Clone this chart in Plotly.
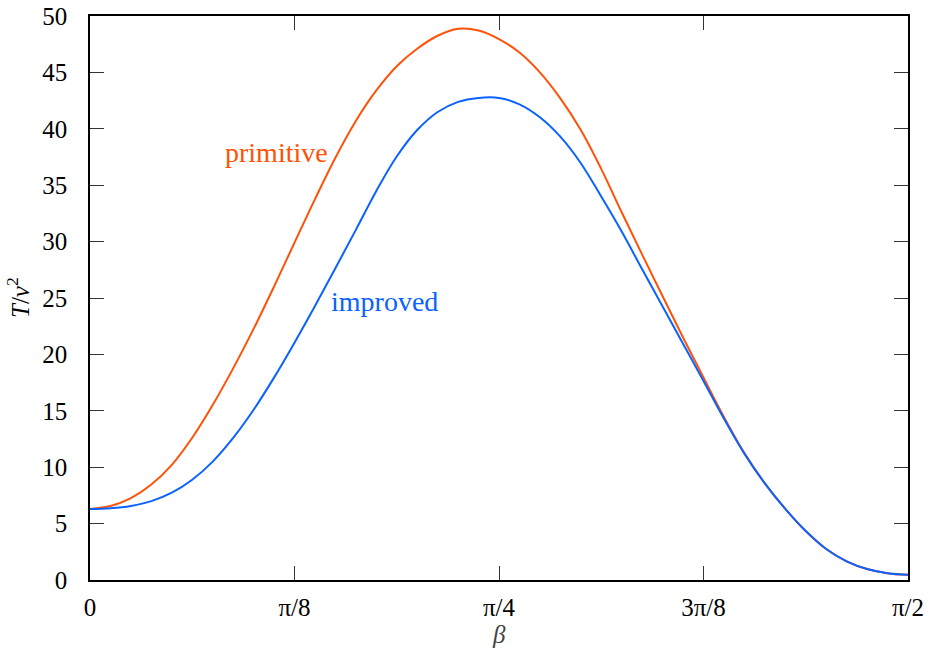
import plotly.graph_objects as go

# beta values (radians) from 0 to pi/2
beta = [0.0, 0.0393, 0.0785, 0.1178, 0.1571, 0.1963, 0.2356, 0.2749, 0.3142,
        0.3534, 0.3927, 0.4320, 0.4712, 0.5105, 0.5498, 0.5890, 0.6283,
        0.6676, 0.7069, 0.7461, 0.7854, 0.8247, 0.8639, 0.9032, 0.9425,
        0.9817, 1.0210, 1.0603, 1.0996, 1.1388, 1.1781, 1.2174, 1.2566,
        1.2959, 1.3352, 1.3744, 1.4137, 1.4530, 1.4923, 1.5315, 1.5708]

primitive = [6.3, 6.56, 7.26, 8.46, 10.21, 12.61, 15.51, 18.76, 22.26,
             26.01, 29.91, 33.76, 37.44, 40.7, 43.4, 45.55, 47.1,
             48.25, 48.87, 48.72, 47.96, 46.76, 45.0, 42.7, 39.9,
             36.45, 32.6, 28.85, 25.15, 21.5, 17.95, 14.45, 11.25,
             8.57, 6.31, 4.34, 2.75, 1.66, 0.97, 0.6, 0.46]

improved = [6.3, 6.37, 6.57, 6.99, 7.74, 8.89, 10.49, 12.59, 15.09,
            17.94, 21.04, 24.29, 27.64, 31.04, 34.49, 37.54, 39.89,
            41.49, 42.39, 42.74, 42.74, 42.17, 41.02, 39.3, 36.95,
            34.0, 30.9, 27.55, 24.25, 20.95, 17.65, 14.3, 11.2,
            8.57, 6.31, 4.34, 2.75, 1.66, 0.97, 0.6, 0.46]

xtick_vals = [0.0, 0.3927, 0.7854, 1.1781, 1.5708]
xtick_text = ["0", "π/8", "π/4", "3π/8", "π/2"]
ytick_vals = [0, 5, 10, 15, 20, 25, 30, 35, 40, 45, 50]

ORANGE = "#ff5208"
BLUE = "#0a62ff"
FONT = "Liberation Serif"

fig = go.Figure()
fig.add_trace(go.Scatter(x=beta, y=primitive, mode="lines",
                         line=dict(color=ORANGE, width=2, shape="spline", smoothing=1.0),
                         name="primitive", showlegend=False))
fig.add_trace(go.Scatter(x=beta, y=improved, mode="lines",
                         line=dict(color=BLUE, width=2, shape="spline", smoothing=1.0),
                         name="improved", showlegend=False))

axis_common = dict(showline=True, linecolor="black", linewidth=1.5, mirror="ticks",
                   ticks="inside", ticklen=14, tickwidth=1, tickcolor="#333333",
                   showgrid=False, zeroline=False,
                   tickfont=dict(family=FONT, size=25, color="black"))

fig.update_xaxes(range=[0, 1.5708], tickvals=xtick_vals, ticktext=xtick_text,
                 ticklabelstandoff=4, **axis_common)
fig.update_yaxes(range=[0, 50], tickvals=ytick_vals,
                 ticklabelstandoff=16, **axis_common)

fig.add_annotation(x=0.4609, y=37.9, xref="x", yref="y", text="primitive",
                   showarrow=False, xanchor="right", yanchor="middle",
                   font=dict(family=FONT, size=28, color=ORANGE))
fig.add_annotation(x=0.459, y=24.65, xref="x", yref="y", text="improved",
                   showarrow=False, xanchor="left", yanchor="middle",
                   font=dict(family=FONT, size=28, color=BLUE))

# axis titles
fig.add_annotation(x=-0.088, y=0.5, xref="paper", yref="paper",
                   text="<i>T</i>/<i>v</i><sup>2</sup>", textangle=-90,
                   showarrow=False, xanchor="center", yanchor="middle",
                   font=dict(family=FONT, size=25, color="black"))
fig.add_annotation(x=0.5, y=-0.0975, xref="paper", yref="paper",
                   text="<i>β</i>", showarrow=False,
                   xanchor="center", yanchor="middle",
                   font=dict(family=FONT, size=25, color="#444444"))

fig.update_layout(width=933, height=650,
                  margin=dict(l=90, r=25, t=16, b=70, autoexpand=False),
                  plot_bgcolor="white", paper_bgcolor="white",
                  showlegend=False)

fig.write_html("out.html")
